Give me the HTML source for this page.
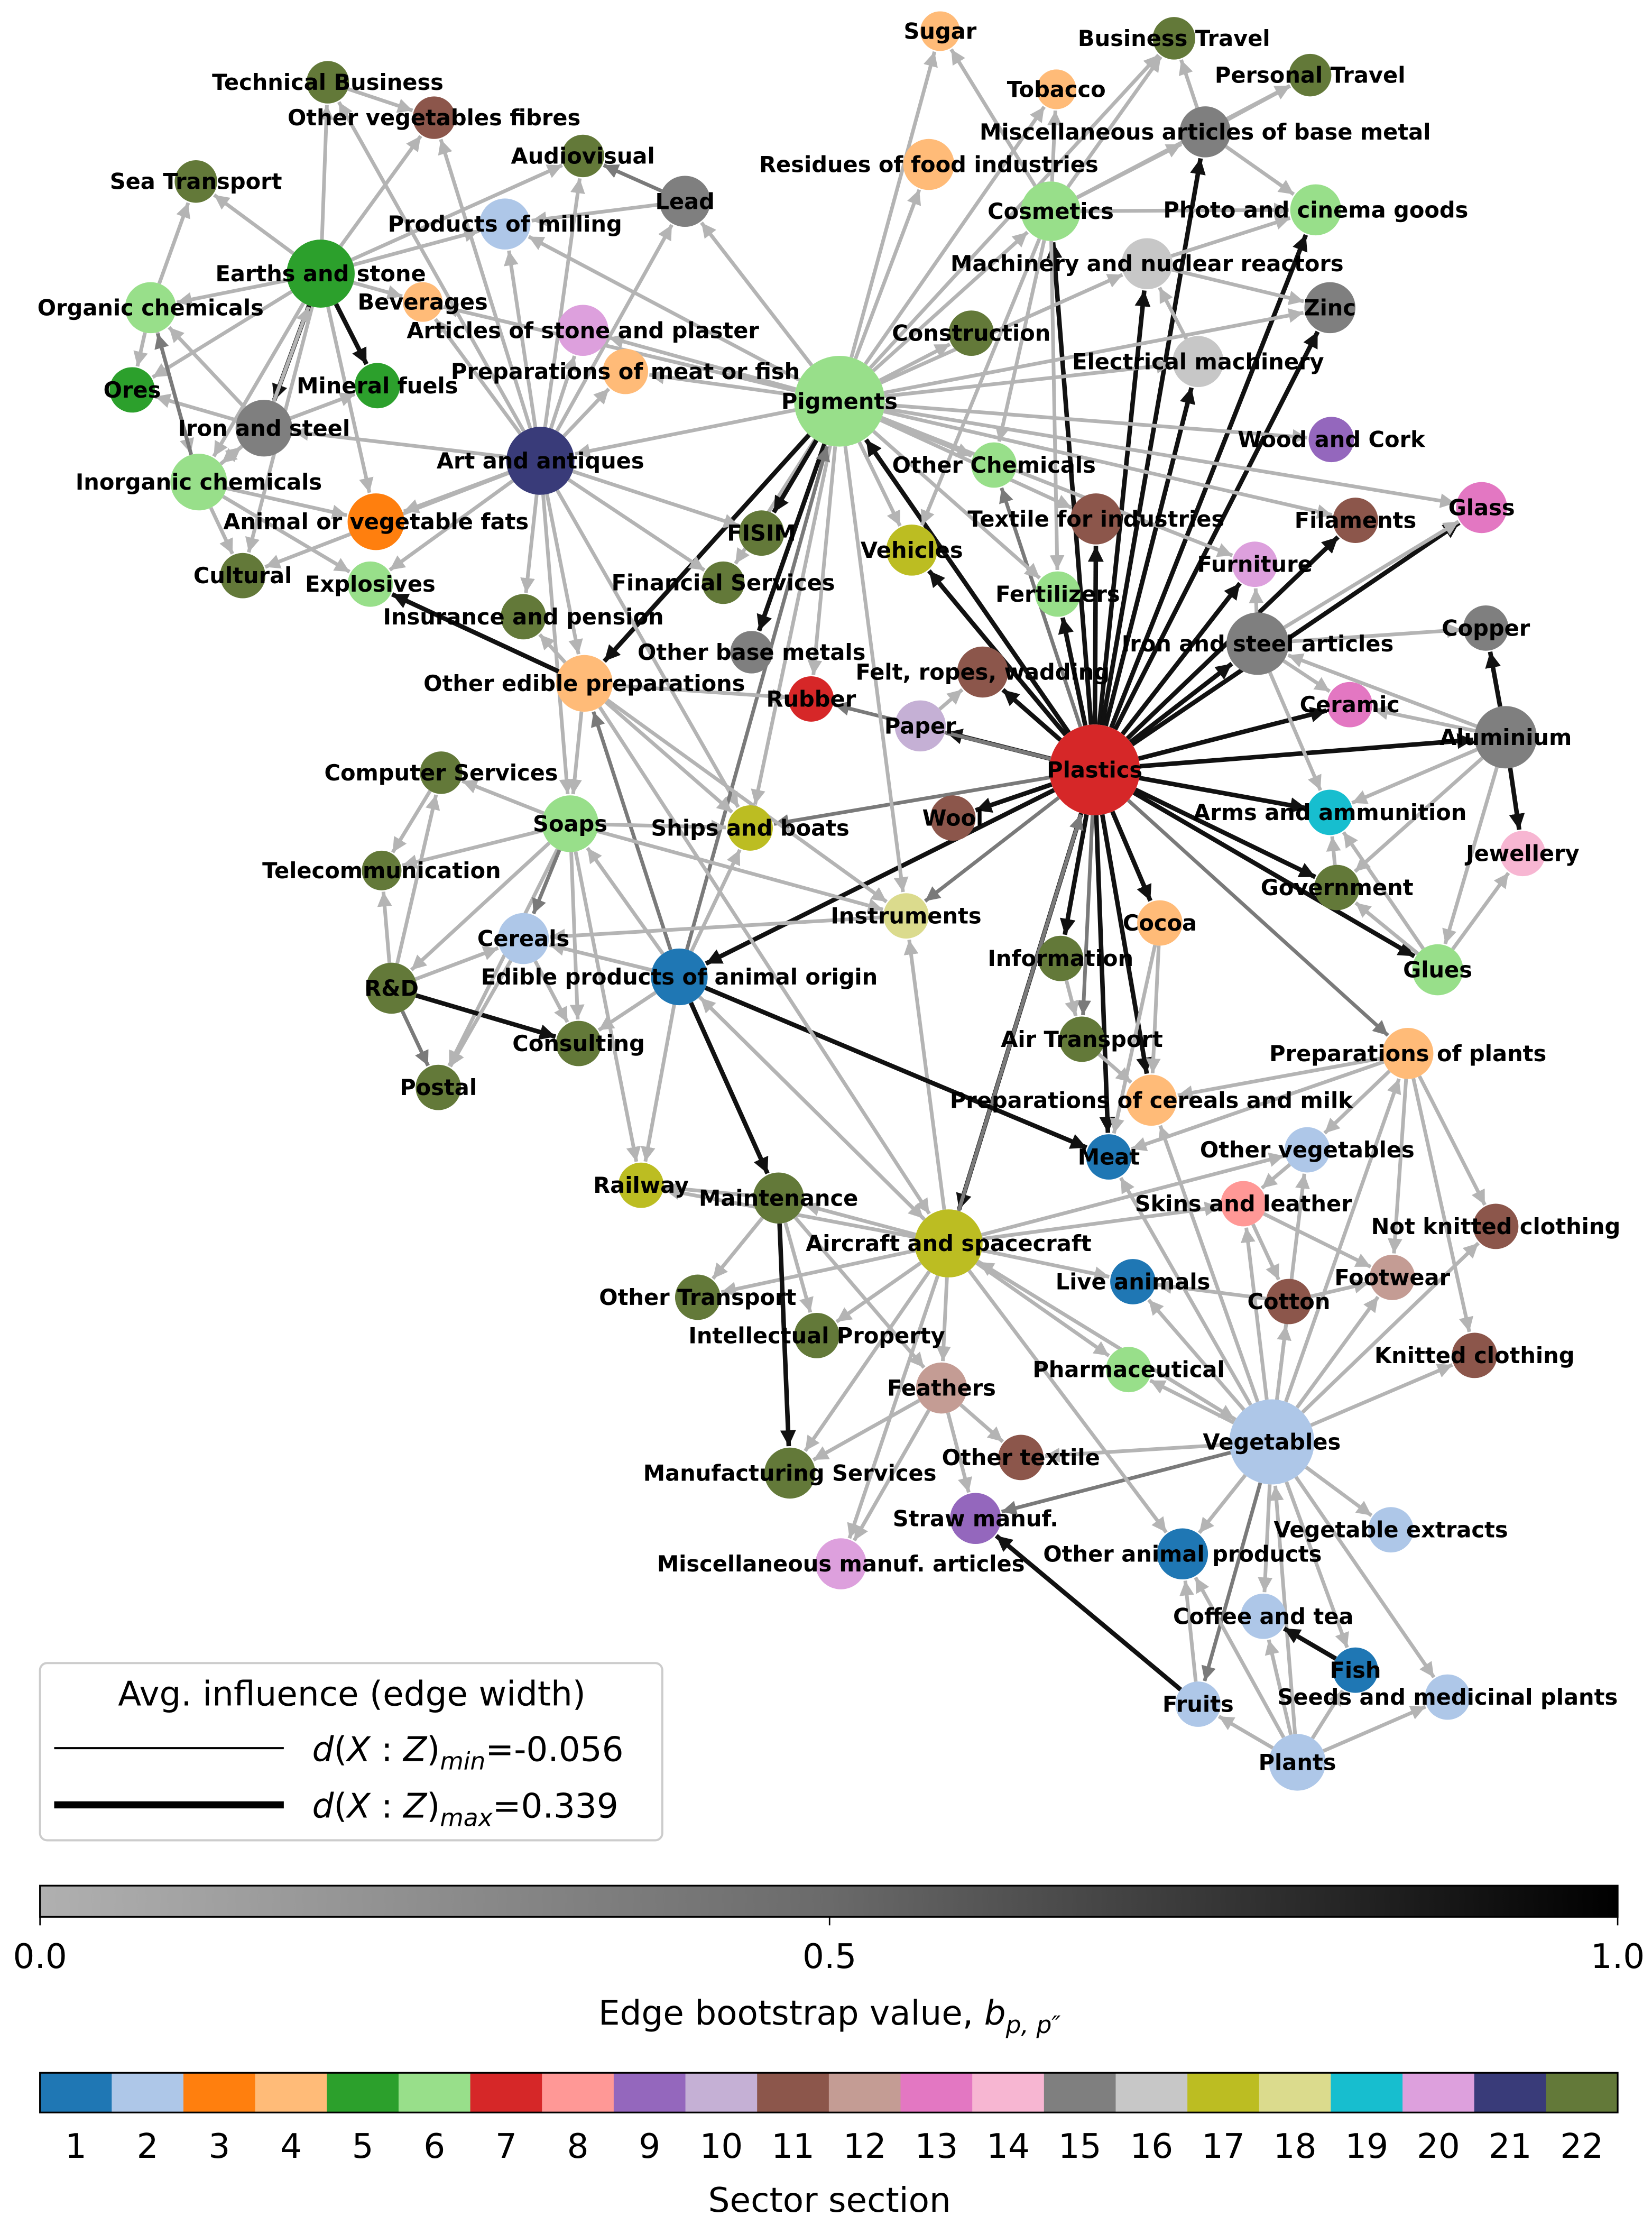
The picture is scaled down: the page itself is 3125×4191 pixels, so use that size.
<!DOCTYPE html>
<html><head><meta charset="utf-8">
<style>
html,body{margin:0;padding:0;background:#fff;}
svg{display:block;}
text{font-family:"DejaVu Sans","Liberation Sans",sans-serif;}
.nl{font-weight:bold;font-size:15.5px;fill:#000;text-anchor:middle;dominant-baseline:central;}
</style></head>
<body>
<svg id="s" width="3125" height="4191" viewBox="0 0 1165 1563" xmlns="http://www.w3.org/2000/svg">
<defs>
<linearGradient id="gb" x1="0" x2="1" y1="0" y2="0"><stop offset="0" stop-color="#b0b0b0"/><stop offset="0.5" stop-color="#6a6a6a"/><stop offset="1" stop-color="#000"/></linearGradient>
<marker id="m0" viewBox="0 0 10 10" refX="10" refY="5" markerWidth="4" markerHeight="4" orient="auto" markerUnits="strokeWidth"><path d="M0,0L10,5L0,10z" fill="#b4b4b4"/></marker>
<marker id="m1" viewBox="0 0 10 10" refX="10" refY="5" markerWidth="4" markerHeight="4" orient="auto" markerUnits="strokeWidth"><path d="M0,0L10,5L0,10z" fill="#7a7a7a"/></marker>
<marker id="m2" viewBox="0 0 10 10" refX="10" refY="5" markerWidth="3.5" markerHeight="3.5" orient="auto" markerUnits="strokeWidth"><path d="M0,0L10,5L0,10z" fill="#111"/></marker>
</defs>
<g id="edges"></g>
<g id="nodes"></g>
<g id="labels"></g>

<!-- legend -->
<rect x="28" y="1173" width="439" height="125" rx="5" fill="#fff" stroke="#ccc" stroke-width="1.5"/>
<text x="248" y="1203" font-size="24" text-anchor="middle">Avg. influence (edge width)</text>
<line x1="38" y1="1233" x2="200" y2="1233" stroke="#000" stroke-width="1.5"/>
<text x="220" y="1242" font-size="24"><tspan font-style="italic">d</tspan>(<tspan font-style="italic">X</tspan> : <tspan font-style="italic">Z</tspan>)<tspan font-style="italic" font-size="17" dy="6">min</tspan><tspan dy="-6">=-0.056</tspan></text>
<line x1="38" y1="1273" x2="200" y2="1273" stroke="#000" stroke-width="5"/>
<text x="220" y="1282" font-size="24"><tspan font-style="italic">d</tspan>(<tspan font-style="italic">X</tspan> : <tspan font-style="italic">Z</tspan>)<tspan font-style="italic" font-size="17" dy="6">max</tspan><tspan dy="-6">=0.339</tspan></text>

<!-- colorbar 1 -->
<rect x="28" y="1330" width="1113" height="22" fill="url(#gb)" stroke="#000" stroke-width="1.2"/>
<line x1="28" y1="1352" x2="28" y2="1358" stroke="#000"/><line x1="585" y1="1352" x2="585" y2="1358" stroke="#000"/><line x1="1141" y1="1352" x2="1141" y2="1358" stroke="#000"/>
<text x="28" y="1388" font-size="24" text-anchor="middle">0.0</text>
<text x="585" y="1388" font-size="24" text-anchor="middle">0.5</text>
<text x="1141" y="1388" font-size="24" text-anchor="middle">1.0</text>
<text x="585" y="1428" font-size="24" text-anchor="middle">Edge bootstrap value, <tspan font-style="italic">b</tspan><tspan font-style="italic" font-size="17" dy="6">p, p″</tspan></text>

<!-- colorbar 2 -->
<g id="cb2"></g>
<text x="585" y="1560" font-size="24" text-anchor="middle">Sector section</text>

<script>
var C=["#1f77b4","#aec7e8","#ff7f0e","#ffbb78","#2ca02c","#98df8a","#d62728","#ff9896","#9467bd","#c5b0d5","#8c564b","#c49c94","#e377c2","#f7b6d2","#7f7f7f","#c7c7c7","#bcbd22","#dbdb8d","#17becf","#dda0dd","#393b79","#637939"];
var N={
sug:["Sugar",663,22,14,4],btr:["Business Travel",828,27,15,22],ptr:["Personal Travel",924,53,15,22],
tec:["Technical Business",231,58,15,22],tob:["Tobacco",745,63,14,4],ovf:["Other vegetables fibres",306,83,15,11],
mab:["Miscellaneous articles of base metal",850,93,18,15],aud:["Audiovisual",411,110,15,22],
res:["Residues of food industries",655,116,18,4],sea:["Sea Transport",138,128,15,22],lea:["Lead",483,142,18,15],
cos:["Cosmetics",741,149,21,6],pho:["Photo and cinema goods",928,148,18,6],mil:["Products of milling",356,158,18,2],
mac:["Machinery and nuclear reactors",809,186,18,16],ear:["Earths and stone",226,193,24,5],bev:["Beverages",298,213,14,4],
org:["Organic chemicals",106,217,18,6],zin:["Zinc",938,217,18,15],sto:["Articles of stone and plaster",411,233,18,20],
con:["Construction",685,235,16,22],ele:["Electrical machinery",845,255,18,16],pmf:["Preparations of meat or fish",441,262,16,4],
pig:["Pigments",592,283,32,6],ore:["Ores",93,275,16,5],mfu:["Mineral fuels",266,272,16,5],irs:["Iron and steel",186,302,20,15],
woo:["Wood and Cork",939,310,16,9],ino:["Inorganic chemicals",140,340,20,6],art:["Art and antiques",381,325,24,21],
och:["Other Chemicals",701,328,16,6],gla:["Glass",1045,358,18,13],tex:["Textile for industries",773,366,18,11],
fil:["Filaments",956,367,16,11],fat:["Animal or vegetable fats",265,368,20,3],fis:["FISIM",537,376,16,22],
veh:["Vehicles",643,388,18,17],fur:["Furniture",885,398,16,20],cul:["Cultural",171,406,16,22],exp:["Explosives",261,412,16,6],
fin:["Financial Services",510,411,15,22],fer:["Fertilizers",746,419,16,6],ins:["Insurance and pension",369,435,16,22],
isa:["Iron and steel articles",887,454,22,15],cop:["Copper",1048,443,16,15],obm:["Other base metals",530,460,15,15],
fel:["Felt, ropes, wadding",693,474,18,11],oep:["Other edible preparations",412,482,20,4],rub:["Rubber",572,493,16,7],
cer:["Ceramic",952,497,16,13],pap:["Paper",649,512,18,10],alu:["Aluminium",1062,520,22,15],pla:["Plastics",772,543,32,7],
cmp:["Computer Services",311,545,15,22],soa:["Soaps",402,581,20,6],shi:["Ships and boats",529,584,16,17],
wol:["Wool",672,577,16,11],arm:["Arms and ammunition",938,573,16,19],jew:["Jewellery",1074,602,16,14],
tel:["Telecommunication",269,614,14,22],gov:["Government",943,626,16,22],ins2:["Instruments",639,646,16,18],
coc:["Cocoa",818,651,16,4],cea:["Cereals",369,662,18,2],eda:["Edible products of animal origin",479,689,20,1],
inf:["Information",748,676,16,22],rd:["R&D",276,697,18,22],glu:["Glues",1014,684,18,6],cns:["Consulting",408,736,16,22],
air:["Air Transport",763,733,16,22],ppl:["Preparations of plants",993,743,18,4],pos:["Postal",309,767,16,22],
pcm:["Preparations of cereals and milk",812,776,18,4],mea:["Meat",782,816,16,1],ove:["Other vegetables",922,811,16,2],
rai:["Railway",452,836,16,17],mai:["Maintenance",549,845,18,22],ski:["Skins and leather",877,849,16,8],
nkc:["Not knitted clothing",1055,865,16,11],acs:["Aircraft and spacecraft",669,877,24,17],liv:["Live animals",799,904,16,1],
foo:["Footwear",982,901,16,12],otr:["Other Transport",492,915,16,22],cot:["Cotton",909,918,16,11],
ipr:["Intellectual Property",576,942,16,22],pha:["Pharmaceutical",796,966,16,6],knc:["Knitted clothing",1040,956,16,11],
fea:["Feathers",664,979,18,12],veg:["Vegetables",897,1017,30,2],otx:["Other textile",720,1028,16,11],
mfs:["Manufacturing Services",557,1039,18,22],str:["Straw manuf.",688,1071,18,9],vex:["Vegetable extracts",981,1079,16,2],
oap:["Other animal products",834,1096,18,1],mma:["Miscellaneous manuf. articles",593,1103,18,20],cof:["Coffee and tea",891,1140,16,2],
fis2:["Fish",956,1178,16,1],fru:["Fruits",845,1202,16,2],see:["Seeds and medicinal plants",1021,1197,16,2],pln:["Plants",915,1243,20,2]
};
// edges: "from>to:shade" shade 0 light,1 mid,2 black
var E=[];
function add(f,list,s){list.split(" ").forEach(function(t){E.push([f,t,s]);});}
add("pla","veh fel pap wol fer tex cos mac mab ele zin pho fur fil gla isa cer alu arm gov glu coc pcm mea inf eda acs pig",2);
add("pla","och ins2 ppl air shi rub",1);
add("pig","sug res con cos mac zin ele woo gla fil och veh tex fer fis obm rub fin art lea sto mil bev ins2 shi fur btr tob pmf",0);
add("pig","oep fis obm",2);
add("ear","tec ovf sea org ore mfu irs ino fat bev aud mil cul",0);
add("ear","mfu irs",2);
add("art","mil aud lea ovf tec bev exp ins oep fis shi soa sto irs fat fin pmf cul",0);
add("veg","ove ski cot foo nkc knc pha liv vex cof fis2 see oap otx acs ppl mea pcm",0);
add("veg","fru str",1);
add("acs","mai rai otr ipr fea pha liv ins2 veg mfs mma ski ove eda oap",0);
add("acs","pla",1);
add("eda","soa rai cea shi cns acs",0);
add("eda","mai mea",2);add("eda","oep pig",1);
add("soa","cmp cea rd tel rai pos cns shi ins2",0);add("soa","cea",1);
add("rd","cmp tel pos cea",0);add("rd","cns",2);add("rd","pos",1);
add("mai","ipr otr fea rai",0);add("mai","mfs",2);
add("fea","str otx mma mfs",0);
add("pln","fru cof fis2 see veg oap",0);add("fis2","cof",2);add("fru","str",2);add("fru","oap",0);
add("alu","cop jew",2);add("alu","glu arm isa cer gov",0);
add("isa","cop gla fur cer arm",0);
add("ppl","ove nkc knc foo mea pcm",0);
add("cos","sug tob btr ptr pho mab veh fer och",0);
add("mab","btr ptr pho",0);add("lea","aud",1);add("lea","mil",0);
add("org","ore ino sea",0);add("ino","org cul exp fat irs",0);add("irs","org ore ino mfu ear",0);add("ino","org",1);
add("oep","exp",2);add("oep","ins soa shi rub ins2 acs",0);
add("glu","jew gov arm",0);add("gov","arm",0);
add("mac","pho zin",0);add("ele","mac",0);
add("ski","foo cot",0);add("ove","ski",0);add("cot","liv foo",0);add("coc","pcm mea",0);add("inf","air",0);add("air","pcm",0);
add("pap","fel",0);add("cea","cns pos",0);add("cmp","tel",0);add("ins2","cea",0);add("tec","ovf",0);
var NS="http://www.w3.org/2000/svg";
var ge=document.getElementById("edges"),gn=document.getElementById("nodes"),gl=document.getElementById("labels");
var col=["#b4b4b4","#7a7a7a","#111"],wid=[2.6,2.6,3.2];
E.forEach(function(e){var a=N[e[0]],b=N[e[1]];if(!a||!b||a===b)return;
var dx=b[1]-a[1],dy=b[2]-a[2],d=Math.sqrt(dx*dx+dy*dy);if(d<1)return;
var x1=a[1]+dx/d*a[3],y1=a[2]+dy/d*a[3],x2=b[1]-dx/d*(b[3]+1),y2=b[2]-dy/d*(b[3]+1);
var l=document.createElementNS(NS,"line");l.setAttribute("x1",x1);l.setAttribute("y1",y1);l.setAttribute("x2",x2);l.setAttribute("y2",y2);
l.setAttribute("stroke",col[e[2]]);l.setAttribute("stroke-width",wid[e[2]]);l.setAttribute("marker-end","url(#m"+e[2]+")");ge.appendChild(l);});
for(var k in N){var n=N[k];var c=document.createElementNS(NS,"circle");c.setAttribute("cx",n[1]);c.setAttribute("cy",n[2]);c.setAttribute("r",n[3]);c.setAttribute("fill",C[n[4]-1]);gn.appendChild(c);
var t=document.createElementNS(NS,"text");t.setAttribute("x",n[1]);t.setAttribute("y",n[2]);t.setAttribute("class","nl");
if(k=="pig"||k=="pla"||k=="veg")t.setAttribute("font-size","18");t.textContent=n[0];gl.appendChild(t);}
var cb=document.getElementById("cb2"),w=1113/22;
for(var i=0;i<22;i++){var r=document.createElementNS(NS,"rect");r.setAttribute("x",28+i*w);r.setAttribute("y",1462);r.setAttribute("width",w+0.5);r.setAttribute("height",28);r.setAttribute("fill",C[i]);cb.appendChild(r);
var t2=document.createElementNS(NS,"text");t2.setAttribute("x",28+(i+0.5)*w);t2.setAttribute("y",1522);t2.setAttribute("font-size","24");t2.setAttribute("text-anchor","middle");t2.textContent=String(i+1);cb.appendChild(t2);}
var bo=document.createElementNS(NS,"rect");bo.setAttribute("x",28);bo.setAttribute("y",1462);bo.setAttribute("width",1113);bo.setAttribute("height",28);bo.setAttribute("fill","none");bo.setAttribute("stroke","#000");bo.setAttribute("stroke-width","1.2");cb.appendChild(bo);
</script>
</svg>
</body></html>
